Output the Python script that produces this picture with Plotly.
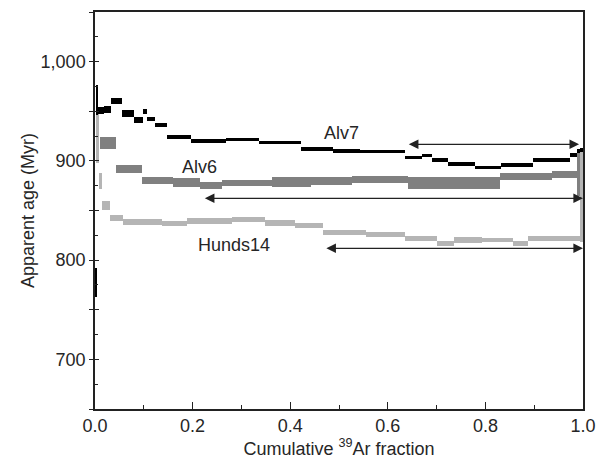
import plotly.graph_objects as go

# ---------------- data (cumulative 39Ar fraction steps, age limits in Myr) ----------------
alv7_x0 = [0.001, 0.004, 0.007, 0.019, 0.032, 0.055, 0.079, 0.099, 0.106, 0.123, 0.147, 0.197,
           0.268, 0.337, 0.423, 0.488, 0.543, 0.635, 0.670, 0.690, 0.724, 0.779, 0.831, 0.898,
           0.973, 0.987, 0.994]
alv7_x1 = [0.004, 0.007, 0.019, 0.032, 0.055, 0.079, 0.099, 0.106, 0.123, 0.147, 0.197, 0.268,
           0.337, 0.423, 0.488, 0.543, 0.635, 0.670, 0.690, 0.724, 0.779, 0.831, 0.898, 0.973,
           0.987, 0.994, 1.000]
alv7_lo = [763, 946, 947, 948.5, 957, 944, 938, 947, 940.5, 934.5, 922, 918, 919.7, 917, 910,
           908.2, 907.6, 901.6, 903.6, 899.2, 895, 891.5, 893.5, 899.2, 903.6, 907.6, 909]
alv7_hi = [792, 976, 954.6, 955, 963, 951, 944, 952, 944, 938, 926, 922, 923, 920, 913.7,
           911.7, 911, 905, 907, 902.6, 899.2, 895, 897.6, 903.2, 907.6, 911.7, 913]

alv6_x0 = [0.010, 0.044, 0.097, 0.159, 0.215, 0.260, 0.362, 0.443, 0.526, 0.642, 0.829, 0.936, 0.987]
alv6_x1 = [0.044, 0.097, 0.159, 0.215, 0.260, 0.362, 0.443, 0.526, 0.642, 0.829, 0.936, 0.987, 0.995]
alv6_lo = [911.7, 887.5, 876.4, 874, 871.4, 874.5, 873.4, 875.7, 877.4, 871.4, 880.7, 882.4, 865]
alv6_hi = [924.4, 895.8, 884, 882.4, 879, 881, 883.4, 884, 885, 883.4, 888, 890, 908]

hunds_x0 = [0.003, 0.009, 0.015, 0.031, 0.058, 0.137, 0.189, 0.280, 0.348, 0.410, 0.467, 0.556,
            0.635, 0.700, 0.736, 0.792, 0.857, 0.887, 0.994]
hunds_x1 = [0.009, 0.015, 0.031, 0.058, 0.137, 0.189, 0.280, 0.348, 0.410, 0.467, 0.556, 0.635,
            0.700, 0.736, 0.792, 0.857, 0.887, 0.994, 1.000]
hunds_lo = [898, 872, 851, 839, 835.5, 834, 836.5, 838, 834.5, 832.7, 825.3, 823.6, 819.6,
            814.2, 817.6, 818, 814.2, 819.6, 818]
hunds_hi = [950, 888, 860, 845, 841.5, 839.5, 842, 843, 840.5, 837.7, 830.4, 828.6, 824.3,
            819.3, 823, 822, 819.6, 824.3, 913]

# plateau arrows: start fraction, end fraction, age
plateau_names = ["Alv7", "Alv6", "Hunds14"]
plateau_start = [0.640, 0.222, 0.471]
plateau_end = [0.992, 1.000, 1.000]
plateau_age = [916.7, 862.3, 811.9]

# sample labels
label_text = ["Alv7", "Alv6", "Hunds14"]
label_x = [0.506, 0.215, 0.285]
label_y = [928, 894, 815]

# axis ticks
y_major = [650, 700, 750, 800, 850, 900, 950, 1000, 1050]
y_major_text = ["", "700", "", "800", "", "900", "", "1,000", ""]
y_minor = [675, 725, 775, 825, 875, 925, 975, 1025]

colors = {"Alv7": "#000000", "Alv6": "#808080", "Hunds14": "#b5b5b5"}
FONT = "Liberation Sans, Arial, Helvetica, sans-serif"
TXT = "#262626"


def step_bars(x0, x1, lo, hi, color, name):
    mids = [(a + b) / 2 for a, b in zip(x0, x1)]
    widths = [b - a for a, b in zip(x0, x1)]
    heights = [h - l for l, h in zip(lo, hi)]
    return go.Bar(x=mids, y=heights, base=lo, width=widths, name=name,
                  marker=dict(color=color, line=dict(width=0)), showlegend=False,
                  hoverinfo="skip")


fig = go.Figure()
fig.add_trace(step_bars(alv6_x0, alv6_x1, alv6_lo, alv6_hi, colors["Alv6"], "Alv6"))
fig.add_trace(step_bars(hunds_x0, hunds_x1, hunds_lo, hunds_hi, colors["Hunds14"], "Hunds14"))
fig.add_trace(step_bars(alv7_x0, alv7_x1, alv7_lo, alv7_hi, colors["Alv7"], "Alv7"))
# empty trace so the overlay axis (inside half of crossing ticks) is drawn
fig.add_trace(go.Scatter(x=[None], y=[None], yaxis="y2", showlegend=False, hoverinfo="skip"))

annotations = []
for s, e, a in zip(plateau_start, plateau_end, plateau_age):
    annotations.append(dict(x=e, y=a, ax=s, ay=a, xref="x", yref="y", axref="x", ayref="y",
                            text="", showarrow=True, arrowside="end+start", arrowhead=2,
                            arrowsize=1.6, arrowwidth=1.2, arrowcolor="#222222",
                            standoff=0, startstandoff=0))
for t, x, y in zip(label_text, label_x, label_y):
    annotations.append(dict(x=x, y=y, xref="x", yref="y", text=t, showarrow=False,
                            font=dict(family=FONT, size=18, color=TXT)))

fig.update_layout(
    width=603, height=464,
    margin=dict(l=95, r=20, t=12, b=55),
    paper_bgcolor="white", plot_bgcolor="white",
    barmode="overlay", bargap=0,
    font=dict(family=FONT, size=18, color=TXT),
    annotations=annotations,
    xaxis=dict(range=[0, 1], tick0=0, dtick=0.2, tickformat=".1f", automargin=False,
               ticks="inside", ticklen=7, tickwidth=1.2, tickcolor="#222",
               minor=dict(dtick=0.1, ticks="inside", ticklen=4, tickwidth=1.2, tickcolor="#222"),
               showline=True, linecolor="#222", linewidth=1.5, mirror=True,
               showgrid=False, zeroline=False,
               tickfont=dict(family=FONT, size=18, color=TXT),
               title=dict(text="Cumulative <sup>39</sup>Ar fraction",
                          font=dict(family=FONT, size=18, color=TXT), standoff=2)),
    yaxis=dict(range=[650, 1050], tickmode="array", tickvals=y_major, ticktext=y_major_text,
               automargin=False,
               ticks="outside", ticklen=4, tickwidth=1.2, tickcolor="#222",
               minor=dict(tickmode="array", tickvals=y_minor, ticks="inside", ticklen=3,
                          tickwidth=1.2, tickcolor="#222"),
               showline=True, linecolor="#222", linewidth=1.5, mirror=True,
               showgrid=False, zeroline=False,
               tickfont=dict(family=FONT, size=18, color=TXT),
               title=dict(text="Apparent age (Myr)",
                          font=dict(family=FONT, size=18, color=TXT), standoff=1)),
    yaxis2=dict(range=[650, 1050], overlaying="y", side="left", tickmode="array",
                automargin=False,
                tickvals=y_major, ticks="inside", ticklen=4, tickwidth=1.2, tickcolor="#222",
                showticklabels=False, showline=False, showgrid=False, zeroline=False),
)

fig.write_html("out.html")
